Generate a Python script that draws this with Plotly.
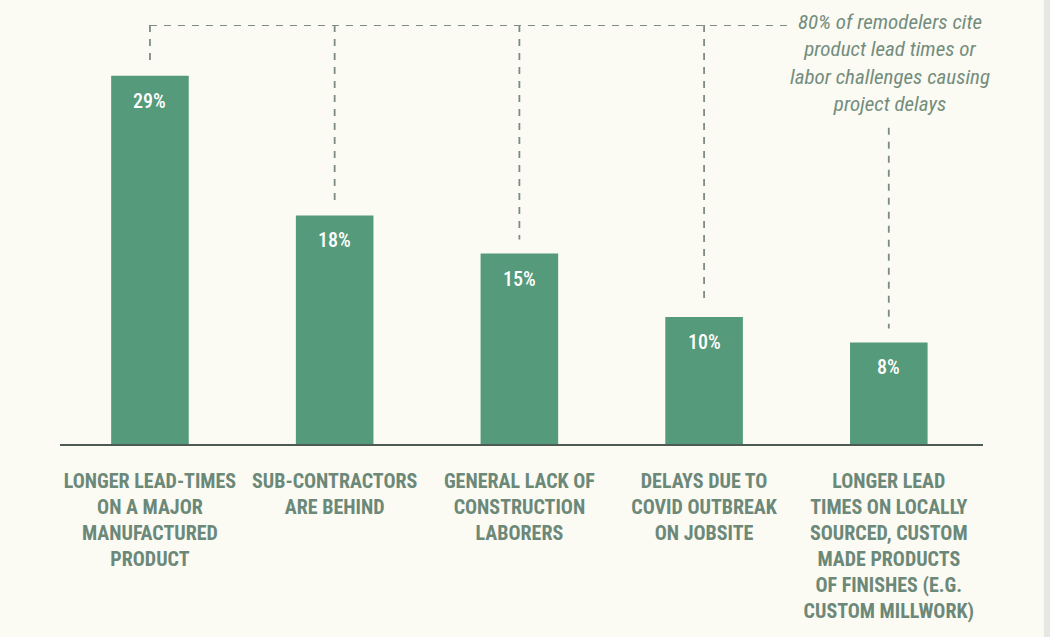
import plotly.graph_objects as go

categories = [
    "LONGER LEAD-TIMES<br>ON A MAJOR<br>MANUFACTURED<br>PRODUCT",
    "SUB-CONTRACTORS<br>ARE BEHIND",
    "GENERAL LACK OF<br>CONSTRUCTION<br>LABORERS",
    "DELAYS DUE TO<br>COVID OUTBREAK<br>ON JOBSITE",
    "LONGER LEAD<br>TIMES ON LOCALLY<br>SOURCED, CUSTOM<br>MADE PRODUCTS<br>OF FINISHES (E.G.<br>CUSTOM MILLWORK)",
]
values = [29, 18, 15, 10, 8]
value_labels = ["29%", "18%", "15%", "10%", "8%"]
callout = "80% of remodelers cite<br>product lead times or<br>labor challenges causing<br>project delays"

BAR = "#559a7a"
TXT = "#6b8878"
DASH = "#7d8c83"
FONT = "Roboto Condensed, Liberation Sans Narrow, Roboto, sans-serif"
BG = "#fbfaf3"

fig = go.Figure()
fig.add_trace(go.Bar(x=categories, y=values, marker=dict(color=BAR, line=dict(width=0)),
                     width=0.42, hoverinfo="skip"))

for i, (v, lab) in enumerate(zip(values, value_labels)):
    fig.add_annotation(x=i, y=v, text=lab, showarrow=False, yshift=-25,
                       font=dict(family=FONT, size=20, color="white", weight=500))

YMAX = 33
line = dict(color=DASH, width=1.8, dash="7px,7px")
# horizontal connector along the top
fig.add_shape(type="line", xref="x", yref="y", x0=0, x1=3.48, y0=YMAX, y1=YMAX, line=line)
# vertical connectors to the first four bars
for i in range(4):
    fig.add_shape(type="line", xref="x", yref="y", x0=i, x1=i, y0=YMAX, y1=values[i] + 1.1, line=line)
# vertical connector from callout to last bar
fig.add_shape(type="line", xref="x", yref="y", x0=4, x1=4, y0=24.9, y1=values[4] + 1.1, line=line)

fig.add_annotation(xref="paper", yref="paper", x=0.899, y=1.04, yanchor="top", xanchor="center",
                   text=callout, showarrow=False, align="center",
                   font=dict(family=FONT, size=21, color="#738d7d", style="italic"))

# page edge shadow on the right
fig.add_shape(type="rect", xref="paper", yref="paper", x0=1.066, x1=1.08, y0=-0.5, y1=1.1,
              fillcolor="#e6e6e3", line=dict(width=0), layer="below")

fig.update_layout(
    width=1050, height=637,
    margin=dict(l=60, r=67, t=25, b=193),
    paper_bgcolor=BG, plot_bgcolor=BG,
    showlegend=False,
    xaxis=dict(range=[-0.487, 4.51], showline=True, linecolor="#4e5b54", linewidth=2,
               showgrid=False, zeroline=False, ticks="", ticklabelstandoff=18,
               tickfont=dict(family=FONT, size=20, color=TXT, weight="bold"), tickangle=0),
    yaxis=dict(range=[0, YMAX], visible=False, showgrid=False, zeroline=False),
)

fig.write_html("out.html", config={"displayModeBar": False},
               post_script="document.body.style.margin='0';document.body.style.background='#fbfaf3';")
